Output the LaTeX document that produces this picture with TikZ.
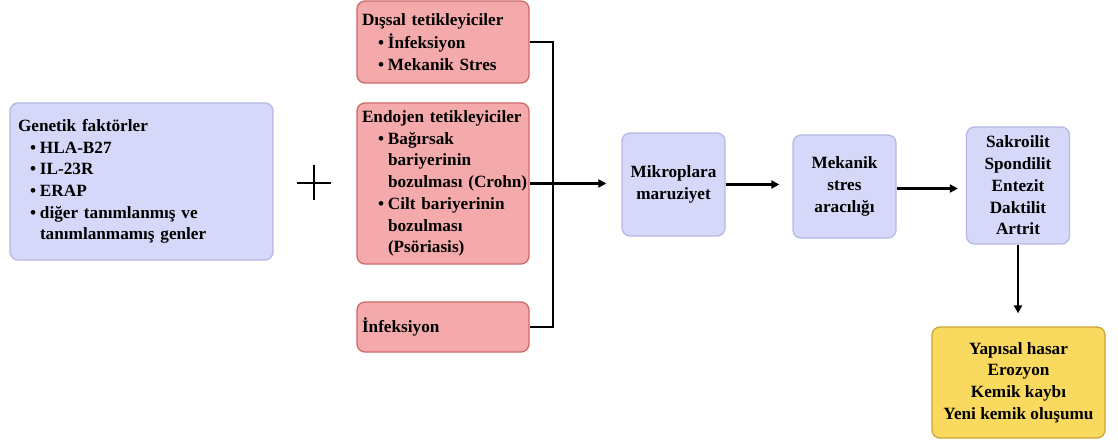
\documentclass[tikz,border=0pt]{standalone}
\usepackage{fontspec}
\setmainfont{Liberation Serif}
\usetikzlibrary{arrows.meta}
\definecolor{lavfill}{HTML}{D5D8F8}
\definecolor{lavdraw}{HTML}{B4B9E6}
\definecolor{pinkfill}{HTML}{F4AAAA}
\definecolor{pinkdraw}{HTML}{CF6868}
\definecolor{yelfill}{HTML}{F9DA5E}
\definecolor{yeldraw}{HTML}{C9A536}
\newcommand{\bu}[2]{\hspace*{#1}\makebox[10pt][l]{•}\mbox{#2}}
\begin{document}
\begin{tikzpicture}[x=1pt,y=-1pt,
  every node/.style={font=\fontsize{17.2}{21.7}\selectfont\bfseries},
  box/.style={draw, rounded corners=8pt, line width=1.3pt, inner ysep=0pt},
  lav/.style={box, fill=lavfill, draw=lavdraw},
  pink/.style={box, fill=pinkfill, draw=pinkdraw},
  yel/.style={box, fill=yelfill, draw=yeldraw},
  conn/.style={line width=2.2pt},
  arr/.style={line width=2.2pt, -{Triangle[length=8pt,width=8pt]}}]
\useasboundingbox (0,0) rectangle (1118,443);
\fill[white] (0,0) rectangle (1118,443);

\node[lav, text width=247pt, inner xsep=8pt, minimum height=157pt, align=left] (gen) at (141.5,181.5)
 {Genetik faktörler\\
  \bu{12pt}{HLA-B27}\\
  \bu{12pt}{IL-23R}\\
  \bu{12pt}{ERAP}\\
  \bu{12pt}{diğer tanımlanmış ve}\\
  \hspace*{22pt}\mbox{tanımlanmamış genler}};

\draw[line width=1.5pt] (297,183) -- (331,183) (314,165) -- (314,200);

\node[pink, text width=162pt, inner xsep=5pt, minimum height=82pt, align=left] (dis) at (443,42)
 {\mbox{Dışsal tetikleyiciler}\\[1pt]
  \bu{16pt}{İnfeksiyon}\\
  \bu{16pt}{Mekanik Stres}};

\node[pink, text width=162pt, inner xsep=5pt, minimum height=161pt, align=left] (endo) at (443,183.5)
 {\mbox{Endojen tetikleyiciler}\\
  \bu{16pt}{Bağırsak}\\
  \hspace*{26pt}\mbox{bariyerinin}\\
  \hspace*{26pt}\mbox{bozulması (Crohn)}\\
  \bu{16pt}{Cilt bariyerinin}\\
  \hspace*{26pt}\mbox{bozulması}\\
  \hspace*{26pt}\mbox{(Psöriasis)}};

\node[pink, text width=162pt, inner xsep=5pt, minimum height=50pt, align=left] (inf) at (443,327)
 {İnfeksiyon};

\node[lav, minimum width=103pt, minimum height=103pt, align=center] (mik) at (673.5,184.5)
 {Mikroplara\\maruziyet};
\node[lav, minimum width=103pt, minimum height=103pt, align=center] (mek) at (844.5,186.5)
 {Mekanik\\stres\\aracılığı};
\node[lav, minimum width=103pt, minimum height=117pt, align=center] (sak) at (1018,185.5)
 {Sakroilit\\Spondilit\\Entezit\\Daktilit\\Artrit};
\node[yel, minimum width=173pt, minimum height=111pt, align=center] (yap) at (1018.5,382.5)
 {Yapısal hasar\\Erozyon\\Kemik kaybı\\Yeni kemik oluşumu};

\coordinate (jx) at (553,0);
\draw[conn] (dis.east) -- (dis.east -| jx) -- (inf.east -| jx) -- (inf.east);
\draw[arr] (endo.east) -- ([xshift=-15pt]endo.east -| mik.west);
\draw[arr] (mik.east) -- ([xshift=-13pt]mik.east -| mek.west);
\draw[arr] ([yshift=-2pt]mek.east) -- ([xshift=-8pt,yshift=-2pt]mek.east -| sak.west);
\draw[arr] (sak.south) -- ([yshift=13pt]sak.south |- yap.north);
\end{tikzpicture}
\end{document}
